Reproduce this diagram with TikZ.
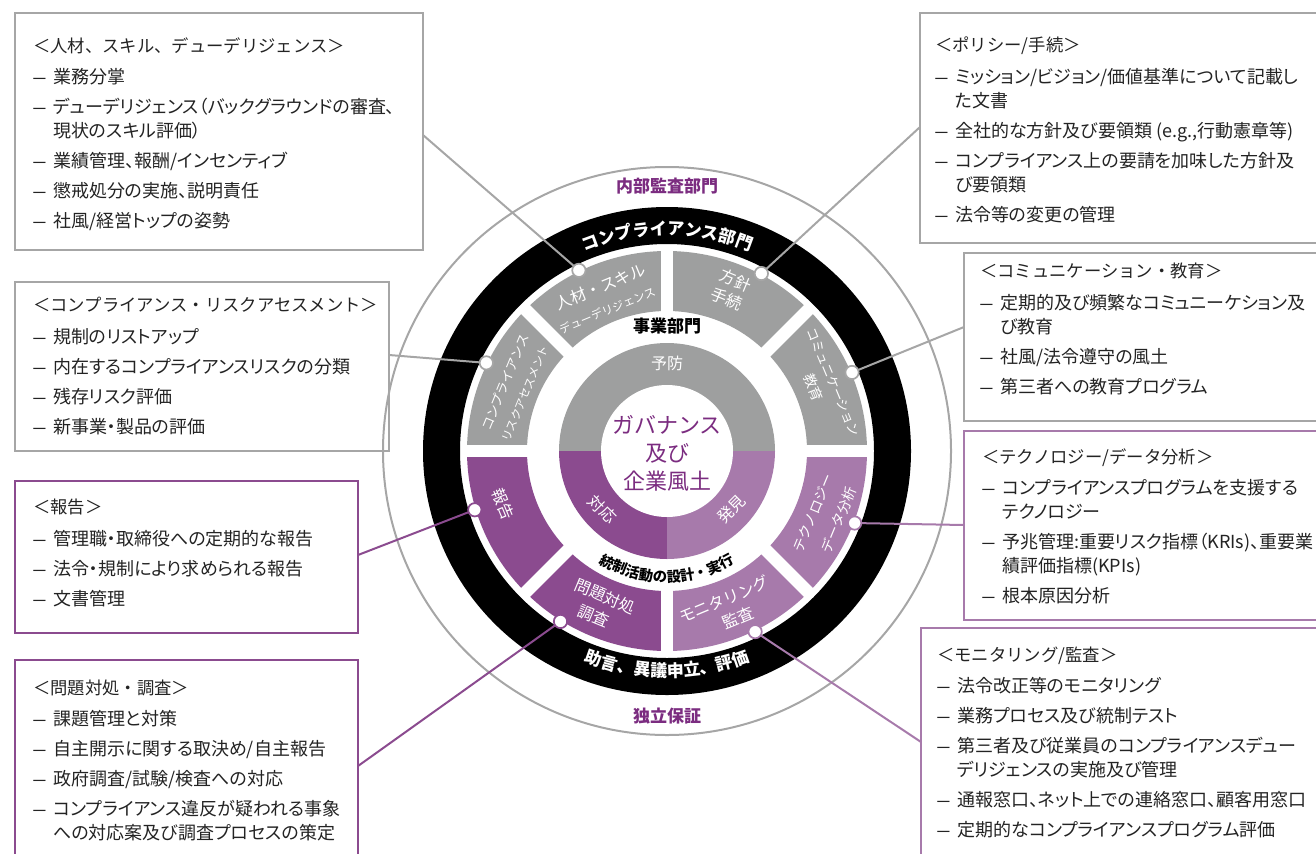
\documentclass[tikz,border=0pt]{standalone}
\usepackage{fontspec}
\usepackage{graphicx}
\setmainfont{Noto Sans CJK JP}[RawFeature=+palt]
\newfontfamily\jpm{Noto Sans CJK JP}
\newfontfamily\lsans{Liberation Sans}
\usetikzlibrary{decorations.text}
\definecolor{segG}{RGB}{158,159,159}
\definecolor{purD}{RGB}{139,75,143}
\definecolor{purL}{RGB}{167,122,171}
\definecolor{purT}{RGB}{123,44,128}
\definecolor{lineG}{RGB}{166,166,166}
\definecolor{txt}{RGB}{35,35,35}
\newcommand\dsh{\makebox[15pt][l]{\scalebox{0.68}[1]{\lsans —}}}
\newcommand\ind{\hspace*{15pt}}
\newcommand\ttl[1]{{\jpm\fontsize{13pt}{18pt}\selectfont #1}}
\newcommand\segfill[3]{\fill[#3] (#1:140) arc[start angle=#1,end angle=#2,radius=140] -- (#2:200) arc[start angle=#2,end angle=#1,radius=200] -- cycle;}
\begin{document}
\begin{tikzpicture}[x=0.75pt,y=0.75pt,
  boxg/.style={draw=lineG,line width=1.9pt},
  boxd/.style={draw=purD,line width=1.9pt},
  boxl/.style={draw=purL,line width=1.9pt},
  boxtxt/.style={anchor=north west,inner sep=0pt,align=left,text=txt,font=\fontsize{13.5pt}{18pt}\selectfont},
  segtxt/.style={text=white,inner sep=0pt,font=\jpm\fontsize{12pt}{13pt}\selectfont},
  segxs/.style={text=white,inner sep=0pt,font=\jpm\fontsize{8.6pt}{10pt}\selectfont},
  segsm/.style={text=white,inner sep=0pt,font=\jpm\fontsize{9.75pt}{11pt}\selectfont},
  segmd/.style={text=white,inner sep=0pt,font=\jpm\fontsize{10.5pt}{11pt}\selectfont},
  cong/.style={draw=lineG,line width=1.5pt},
  cond/.style={draw=purD,line width=1.5pt},
  conl/.style={draw=purL,line width=1.5pt},
  dotg/.style={circle,fill=white,draw=lineG,line width=1.3pt,minimum size=10pt,inner sep=0pt},
  dotd/.style={dotg,draw=purD},
  dotl/.style={dotg,draw=purL},
  ringlbl/.style={inner sep=0pt,text=purT,font=\jpm\bfseries\fontsize{12.75pt}{14pt}\selectfont}
]
\useasboundingbox (0,0) rectangle (1316,-853);
\clip (0,0) rectangle (1316,-853);

% ---------- boxes ----------
\draw[boxg] (15,-13) rectangle (423,-250);
\draw[boxg] (920,-13) rectangle (1325,-243);
\draw[boxg] (15,-282) rectangle (389,-451);
\draw[boxd] (15,-481) rectangle (358,-633);
\draw[boxd] (15,-660) rectangle (358,-870);
\draw[boxg] (964,-253) rectangle (1325,-421);
\draw[boxl] (964,-431) rectangle (1325,-620);
\draw[boxl] (921,-628) rectangle (1325,-870);

\node[boxtxt] (t1) at (33,-37) {\ttl{＜人材、スキル、デューデリジェンス＞}\\[5.5pt]
\dsh 業務分掌\\[4.5pt]
\dsh デューデリジェンス（バックグラウンドの審査、\\
\ind 現状のスキル評価）\\[4.5pt]
\dsh 業績管理、報酬/インセンティブ\\[4.5pt]
\dsh 懲戒処分の実施、説明責任\\[4.5pt]
\dsh 社風/経営トップの姿勢};

\node[boxtxt] (t2) at (935,-37) {\ttl{＜ポリシー/手続＞}\\[5.5pt]
\dsh ミッション/ビジョン/価値基準について記載し\\
\ind た文書\\[4.5pt]
\dsh 全社的な方針及び要領類 (e.g.,行動憲章等)\\[4.5pt]
\dsh コンプライアンス上の要請を加味した方針及\\
\ind び要領類\\[4.5pt]
\dsh 法令等の変更の管理};

\node[boxtxt] (t3) at (33,-297) {\ttl{＜コンプライアンス・リスクアセスメント＞}\\[5.5pt]
\dsh 規制のリストアップ\\[4.5pt]
\dsh 内在するコンプライアンスリスクの分類\\[4.5pt]
\dsh 残存リスク評価\\[4.5pt]
\dsh 新事業・製品の評価};

\node[boxtxt] (t4) at (33,-499) {\ttl{＜報告＞}\\[6pt]
\dsh 管理職・取締役への定期的な報告\\[4.5pt]
\dsh 法令・規制により求められる報告\\[4.5pt]
\dsh 文書管理};

\node[boxtxt] (t5) at (33,-680) {\ttl{＜問題対処・調査＞}\\[5pt]
\dsh 課題管理と対策\\[4.5pt]
\dsh 自主開示に関する取決め/自主報告\\[4.5pt]
\dsh 政府調査/試験/検査への対応\\[4.5pt]
\dsh コンプライアンス違反が疑われる事象\\
\ind への対応案及び調査プロセスの策定};

\node[boxtxt] (t6) at (980,-263) {\ttl{＜コミュニケーション・教育＞}\\[5.5pt]
\dsh 定期的及び頻繁なコミュニーケション及\\
\ind び教育\\[4.5pt]
\dsh 社風/法令遵守の風土\\[4.5pt]
\dsh 第三者への教育プログラム};

\node[boxtxt] (t7) at (982,-448) {\ttl{＜テクノロジー/データ分析＞}\\[5.5pt]
\dsh コンプライアンスプログラムを支援する\\
\ind テクノロジー\\[4.5pt]
\dsh 予兆管理:重要リスク指標（KRIs)、重要業\\
\ind 績評価指標(KPIs)\\[4.5pt]
\dsh 根本原因分析};

\node[boxtxt] (t8) at (937,-647) {\ttl{＜モニタリング/監査＞}\\[5pt]
\dsh 法令改正等のモニタリング\\[4.5pt]
\dsh 業務プロセス及び統制テスト\\[4.5pt]
\dsh 第三者及び従業員のコンプライアンスデュー\\
\ind デリジェンスの実施及び管理\\[4.5pt]
\dsh 通報窓口、ネット上での連絡窓口、顧客用窓口\\[4.5pt]
\dsh 定期的なコンプライアンスプログラム評価};

% connector ends on boxes
\coordinate (c1) at (423,-135);
\coordinate (c2) at (920,-127);
\coordinate (c3) at (964,-327);
\coordinate (c4) at (964,-525);
\coordinate (c5) at (921,-742);
\coordinate (c6) at (358,-766);
\coordinate (c7) at (358,-555);
\coordinate (c8) at (389,-355);

% ---------- wheel ----------
\begin{scope}[shift={(667,-451)}]
\draw[lineG,line width=1.5pt] (0,0) circle[radius=284];
\fill[black,even odd rule] (0,0) circle[radius=244] circle[radius=207];

\segfill{0}{45}{segG}
\segfill{45}{90}{segG}
\segfill{90}{135}{segG}
\segfill{135}{180}{segG}
\segfill{180}{225}{purD}
\segfill{225}{270}{purD}
\segfill{270}{315}{purL}
\segfill{315}{360}{purL}
\foreach \a in {0,45,90,135,180,225,270,315}
  \draw[white,line width=9.5pt] (\a:134) -- (\a:206);

\fill[segG] (0:108) arc[start angle=0,end angle=180,radius=108] -- cycle;
\fill[purD] (0,0) -- (180:108) arc[start angle=180,end angle=270,radius=108] -- cycle;
\fill[purL] (0,0) -- (270:108) arc[start angle=270,end angle=360,radius=108] -- cycle;
\fill[white] (0,0) circle[radius=66];

\node[align=center,text=purT,inner sep=0pt,font=\jpm\fontsize{16.5pt}{21pt}\selectfont] (ctr) at (0,-2) {ガバナンス\\及び\\企業風土};
\node[segtxt] (yb) at (90:88) {予防};
\node[segtxt,rotate=-45] (tk) at (-138:87) {対応};
\node[segtxt,rotate=45] (hk) at (-42:87) {発見};

\node[ringlbl] (ia) at (0,265) {内部監査部門};
\node[ringlbl] (dr) at (0,-265) {独立保証};
\node[inner sep=0pt,font=\jpm\bfseries\fontsize{12.75pt}{14pt}\selectfont] (jb) at (0,125) {事業部門};

\path[decorate,decoration={text along path,text align=center,text color=white,
  text={|\jpm\bfseries\fontsize{12.75pt}{14pt}\selectfont|コンプライアンス部門}}]
  (125:216) arc[start angle=125,end angle=55,radius=216];
\path[decorate,decoration={text along path,text align=center,text color=white,
  text={|\jpm\bfseries\fontsize{12.75pt}{14pt}\selectfont|助言、異議申立、評価}}]
  (235:226) arc[start angle=235,end angle=305,radius=226];
\path[decorate,decoration={text along path,text align=center,text color=black,
  text={|\jpm\bfseries\fontsize{10.75pt}{12pt}\selectfont|統制活動の設計・実行}}]
  (215:131) arc[start angle=215,end angle=325,radius=131];

% segment labels
\node[segtxt,rotate=22.5] (s1a) at (112:177) {人材・スキル};
\node[segxs,rotate=22.5] (s1b) at (113:153) {デューデリジェンス};
\node[segtxt,rotate=-22.5] (s2a) at (68:184) {方針};
\node[segtxt,rotate=-22.5] (s2b) at (68.5:163) {手続};
\node[segsm,rotate=-67.5] (s3a) at (22.5:180) {コミュニケーション};
\node[segmd,rotate=-67.5] (s3b) at (23.5:160) {教育};
\node[segmd,rotate=67.5] (s4a) at (-23:159) {テクノロジー};
\node[segmd,rotate=67.5] (s4b) at (-22:185) {データ分析};
\node[segtxt,rotate=22.5] (s5a) at (-69:159) {モニタリング};
\node[segtxt,rotate=22.5] (s5b) at (-67:181) {監査};
\node[segtxt,rotate=-22.5] (s6a) at (-113:158) {問題対処};
\node[segtxt,rotate=-22.5] (s6b) at (-114:181) {調査};
\node[segtxt,rotate=-67.5] (s7) at (-162:172) {報告};
\node[segsm,rotate=67.5] (s8a) at (157:176) {コンプライアンス};
\node[segxs,rotate=67.5] (s8b) at (158:153) {リスクアセスメント};

% dot anchor points
\coordinate (p1) at (116:201);
\coordinate (p2) at (62:201);
\coordinate (p3) at (23:201);
\coordinate (p4) at (-21:201);
\coordinate (p5) at (-64:201);
\coordinate (p6) at (-122:201);
\coordinate (p7) at (-163:201);
\coordinate (p8) at (154:201);
\end{scope}

% connectors
\draw[cong] (p1) -- (c1);
\draw[cong] (p2) -- (c2);
\draw[cong] (p3) -- (c3);
\draw[conl] (p4) -- (c4);
\draw[conl] (p5) -- (c5);
\draw[cond] (p6) -- (c6);
\draw[cond] (p7) -- (c7);
\draw[cong] (p8) -- (c8);

\node[dotg] (d1) at (p1) {};
\node[dotg] (d2) at (p2) {};
\node[dotg] (d3) at (p3) {};
\node[dotl] (d4) at (p4) {};
\node[dotl] (d5) at (p5) {};
\node[dotd] (d6) at (p6) {};
\node[dotd] (d7) at (p7) {};
\node[dotg] (d8) at (p8) {};
\end{tikzpicture}
\end{document}
